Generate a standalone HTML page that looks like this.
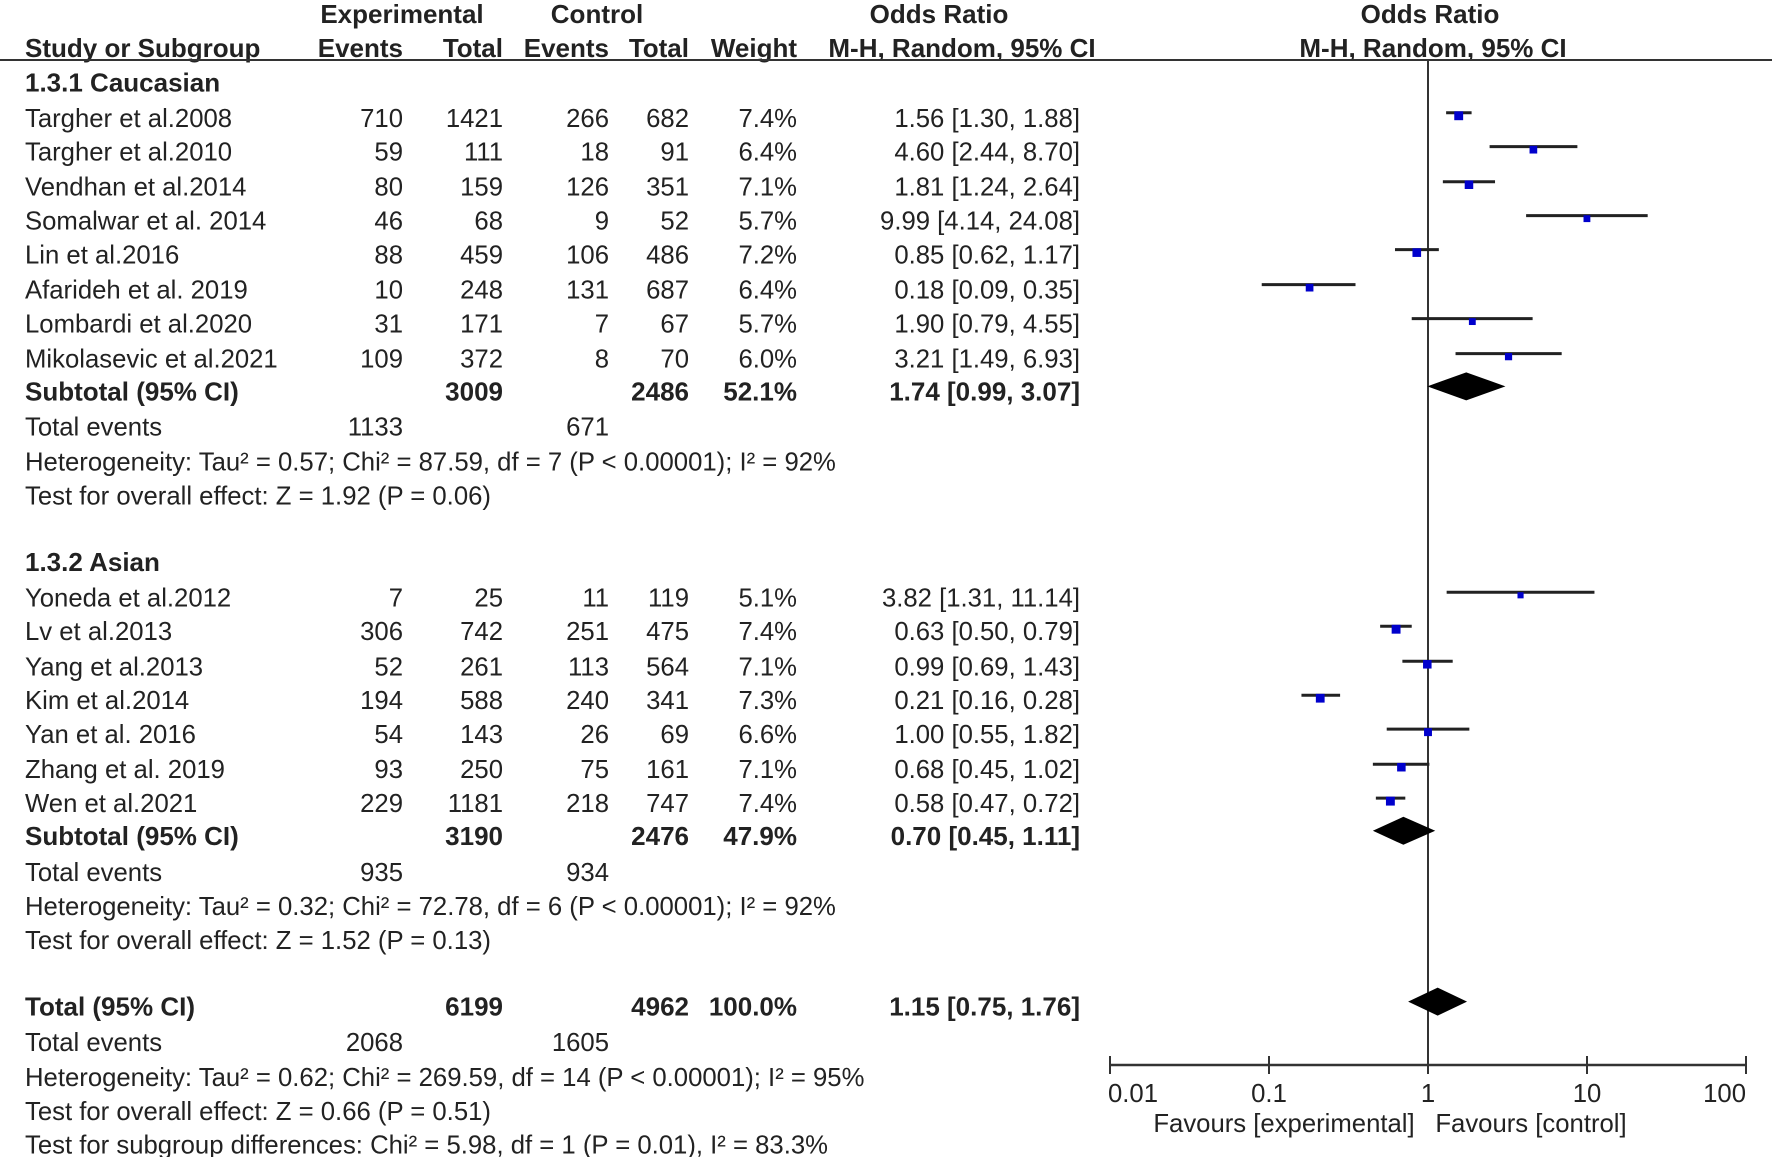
<!DOCTYPE html>
<html><head><meta charset="utf-8"><style>
html,body{margin:0;padding:0;background:#fff;}
svg{display:block;font-family:"Liberation Sans",Arial,sans-serif;}
text{fill:#222;font-size:25.7px;}
.b{font-weight:bold;font-size:26px;}
</style></head><body>
<svg id="c" width="1772" height="1157" viewBox="0 0 1772 1157"></svg>
<script>
const names=["Targher et al.2008","Targher et al.2010","Vendhan et al.2014","Somalwar et al. 2014","Lin et al.2016","Afarideh et al. 2019","Lombardi et al.2020","Mikolasevic et al.2021","Yoneda et al.2012","Lv et al.2013","Yang et al.2013","Kim et al.2014","Yan et al. 2016","Zhang et al. 2019","Wen et al.2021"];
const groupOf=[0,0,0,0,0,0,0,0,1,1,1,1,1,1,1];
const expEvents=[710,59,80,46,88,10,31,109,7,306,52,194,54,93,229];
const expTotal=[1421,111,159,68,459,248,171,372,25,742,261,588,143,250,1181];
const ctlEvents=[266,18,126,9,106,131,7,8,11,251,113,240,26,75,218];
const ctlTotal=[682,91,351,52,486,687,67,70,119,475,564,341,69,161,747];
const weights=[7.4,6.4,7.1,5.7,7.2,6.4,5.7,6.0,5.1,7.4,7.1,7.3,6.6,7.1,7.4];
const orVal=[1.56,4.60,1.81,9.99,0.85,0.18,1.90,3.21,3.82,0.63,0.99,0.21,1.00,0.68,0.58];
const orLo=[1.30,2.44,1.24,4.14,0.62,0.09,0.79,1.49,1.31,0.50,0.69,0.16,0.55,0.45,0.47];
const orHi=[1.88,8.70,2.64,24.08,1.17,0.35,4.55,6.93,11.14,0.79,1.43,0.28,1.82,1.02,0.72];
const subNames=["Subtotal (95% CI)","Subtotal (95% CI)","Total (95% CI)"];
const subExpTotal=[3009,3190,6199];
const subCtlTotal=[2486,2476,4962];
const subWeight=["52.1%","47.9%","100.0%"];
const subOr=[1.74,0.70,1.15];
const subLo=[0.99,0.45,0.75];
const subHi=[3.07,1.11,1.76];
const tickVals=[0.01,0.1,1,10,100];
const tickLabels=["0.01","0.1","1","10","100"];

const S=1.131;
const NS="http://www.w3.org/2000/svg";
const svg=document.getElementById('c');
function el(tag,attrs){const e=document.createElementNS(NS,tag);for(const k in attrs)e.setAttribute(k,attrs[k]);svg.appendChild(e);return e;}
function txt(x,y,s,anchor,bold,name){const t=el('text',{x:x,y:y,'text-anchor':anchor||'start','dominant-baseline':'central'});
if(bold)t.setAttribute('class','b');t.textContent=s;


return t;}
const xAxis=v=>1428+159*Math.log10(v);
const f2=v=>v.toFixed(2);
const ci=(o,l,h)=>f2(o)+" ["+f2(l)+", "+f2(h)+"]";
const C={study:25,ee:403,et:503,ce:609,ct:689,w:797,ci:1080};

// headers
txt(402,14,"Experimental","middle",true,"header-experimental");
txt(597,14,"Control","middle",true,"header-control");
txt(939,14,"Odds Ratio","middle",true,"header-odds-ratio");
txt(1430,14,"Odds Ratio","middle",true,"header-plot-odds-ratio");
txt(C.study,48,"Study or Subgroup","start",true,"header-study");
txt(C.ee,48,"Events","end",true,"header-exp-events");
txt(C.et,48,"Total","end",true,"header-exp-total");
txt(C.ce,48,"Events","end",true,"header-ctl-events");
txt(C.ct,48,"Total","end",true,"header-ctl-total");
txt(C.w,48,"Weight","end",true,"header-weight");
txt(962,48,"M-H, Random, 95% CI","middle",true,"header-method");
txt(1433,48,"M-H, Random, 95% CI","middle",true,"header-plot-method");
let l=el('line',{x1:0,y1:60,x2:1772,y2:60,stroke:'#333','stroke-width':2});



// null line & axis
l=el('line',{x1:xAxis(1),y1:60,x2:xAxis(1),y2:1065,stroke:'#333','stroke-width':2});


l=el('line',{x1:xAxis(0.01),y1:1065,x2:xAxis(100),y2:1065,stroke:'#333','stroke-width':2.5});


tickVals.forEach((v,i)=>{
  const t=el('line',{x1:xAxis(v),y1:1056,x2:xAxis(v),y2:1074,stroke:'#333','stroke-width':2});
  
  
  txt(xAxis(v)+(i==0?-2:0),1094,tickLabels[i],i==0?'start':(i==4?'end':'middle'),false,'x-tick-label');
});
txt(1284,1124,"Favours [experimental]","middle",false,"favours-experimental-label");
txt(1531,1124,"Favours [control]","middle",false,"favours-control-label");

// study rows
const rowY=[105,135,166,196,226,257,287,318,529,559,590,620,650,681,711].map(v=>v*S);
names.forEach((n,i)=>{
  const y=rowY[i];
  txt(C.study,y,n,'start',false,'study-name');
  txt(C.ee,y,String(expEvents[i]),'end',false,'exp-events');
  txt(C.et,y,String(expTotal[i]),'end',false,'exp-total');
  txt(C.ce,y,String(ctlEvents[i]),'end',false,'ctl-events');
  txt(C.ct,y,String(ctlTotal[i]),'end',false,'ctl-total');
  txt(C.w,y,weights[i].toFixed(1)+"%",'end',false,'weight');
  txt(C.ci,y,ci(orVal[i],orLo[i],orHi[i]),'end',false,'odds-ratio-ci');
  const my=y-6;
  const ln=el('line',{x1:xAxis(orLo[i]),y1:my,x2:xAxis(orHi[i]),y2:my,stroke:'#222','stroke-width':3});
  
  
  const sz=weights[i]*1.2;
  const sq=el('rect',{x:xAxis(orVal[i])-sz/2,y:my-sz/2+3,width:sz,height:sz,fill:'#0000cc'});
  
  
});

// group titles
txt(C.study,73*S,"1.3.1 Caucasian",'start',true,'group-title-caucasian');
txt(C.study,497*S,"1.3.2 Asian",'start',true,'group-title-asian');

// subtotal rows
const subY=[346,739,890].map(v=>v*S);
subY.forEach((y,i)=>{
  txt(C.study,y,subNames[i],'start',true,'subtotal-label');
  txt(C.et,y,String(subExpTotal[i]),'end',true,'subtotal-exp-total');
  txt(C.ct,y,String(subCtlTotal[i]),'end',true,'subtotal-ctl-total');
  txt(C.w,y,subWeight[i],'end',true,'subtotal-weight');
  txt(C.ci,y,ci(subOr[i],subLo[i],subHi[i]),'end',true,'subtotal-ci');
  const dy=y-5,h=14;
  const d=el('polygon',{points:`${xAxis(subLo[i])},${dy} ${xAxis(subOr[i])},${dy-h} ${xAxis(subHi[i])},${dy} ${xAxis(subOr[i])},${dy+h}`,fill:'#000'});
  
  
});

// footer text
const extra=[
 [378,"Total events"],[409,"Heterogeneity: Tau² = 0.57; Chi² = 87.59, df = 7 (P < 0.00001); I² = 92%"],[439,"Test for overall effect: Z = 1.92 (P = 0.06)"],
 [772,"Total events"],[802,"Heterogeneity: Tau² = 0.32; Chi² = 72.78, df = 6 (P < 0.00001); I² = 92%"],[832,"Test for overall effect: Z = 1.52 (P = 0.13)"],
 [922,"Total events"],[953,"Heterogeneity: Tau² = 0.62; Chi² = 269.59, df = 14 (P < 0.00001); I² = 95%"],[983,"Test for overall effect: Z = 0.66 (P = 0.51)"],
 [1013,"Test for subgroup differences: Chi² = 5.98, df = 1 (P = 0.01), I² = 83.3%"]];
extra.forEach(e=>txt(C.study,e[0]*S,e[1],'start',false,'summary-text'));
const teExp=[1133,935,2068],teCtl=[671,934,1605],teY=[378,772,922];
teY.forEach((y,i)=>{txt(C.ee,y*S,String(teExp[i]),'end',false,'total-events-exp');txt(C.ce,y*S,String(teCtl[i]),'end',false,'total-events-ctl');});
</script>
</body></html>
